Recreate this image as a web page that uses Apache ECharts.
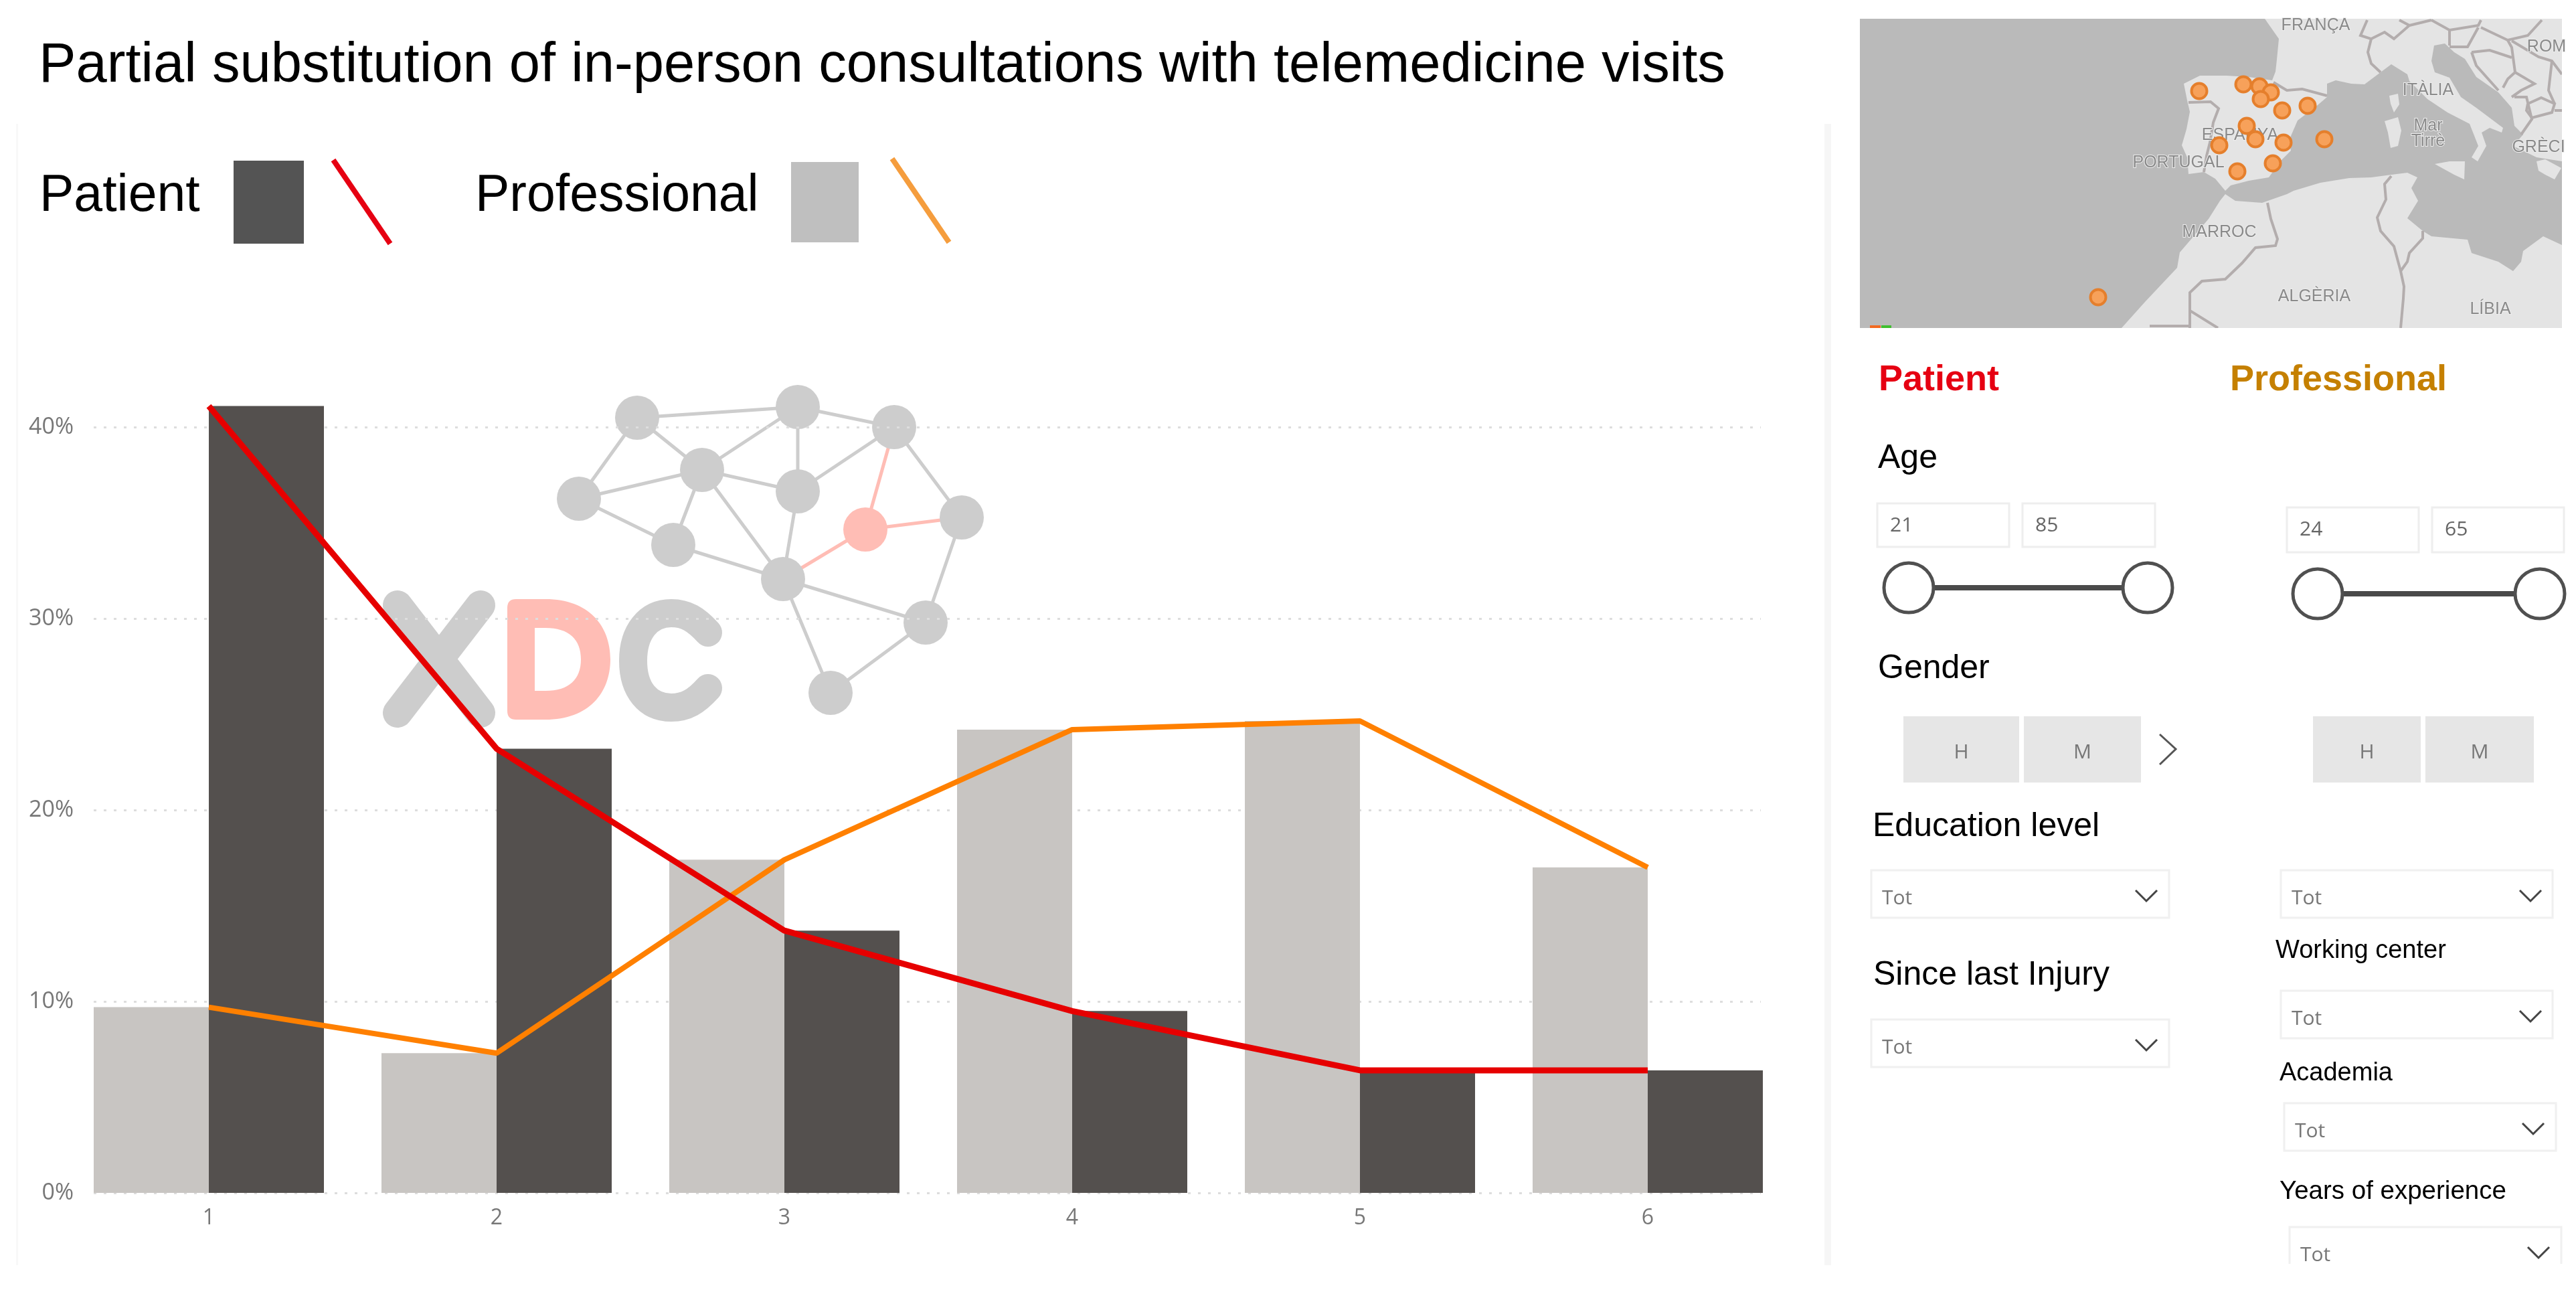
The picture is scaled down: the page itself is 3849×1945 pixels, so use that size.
<!DOCTYPE html>
<html><head><meta charset="utf-8">
<style>html,body{margin:0;padding:0;background:#fff}#c{width:3849px;height:1945px}</style>
<script src="https://cdn.jsdelivr.net/npm/echarts@6/dist/echarts.min.js"></script>
</head><body><div id="c"></div>
<script>
const categories = ['1','2','3','4','5','6'];
const patientValues = [41.1,23.2,13.7,9.5,6.4,6.4];
const professionalValues = [9.7,7.3,17.4,24.2,24.65,17.0];
const mapPointX = [3286,3352,3376,3393,3378,3410,3448,3357,3370,3412,3473,3316,3396,3343,3135];
const mapPointY = [136,126,129,138,148,165,158,188,208,213,208,217,244,256,444];
const mapLand = [
 [[3384,28],[3405,58],[3402,89],[3400,107],[3395,120],[3360,115],[3327,113],[3287,113],[3263,125],[3268,150],[3272,167],[3267,193],[3260,217],[3268,235],[3270,260],[3293,257],[3310,267],[3325,285],[3333,277],[3360,270],[3390,265],[3408,240],[3423,225],[3420,210],[3433,180],[3463,157],[3477,145],[3477,125],[3490,120],[3513,125],[3533,126],[3557,108],[3573,96],[3597,111],[3600,121],[3627,148],[3657,168],[3690,185],[3703,218],[3693,235],[3702,241],[3715,218],[3708,198],[3720,191],[3738,198],[3740,191],[3700,161],[3677,145],[3660,116],[3638,108],[3633,91],[3637,68],[3653,65],[3667,78],[3683,88],[3700,115],[3733,138],[3753,161],[3757,188],[3770,201],[3755,218],[3790,235],[3828,241],[3828,28]],
 [[3790,241],[3803,238],[3827,251],[3817,268],[3803,261],[3793,255]],
 [[3570,143],[3583,140],[3585,156],[3577,168],[3572,155]],
 [[3563,181],[3583,175],[3588,195],[3583,218],[3572,221],[3568,198]],
 [[3638,245],[3660,241],[3683,241],[3682,268],[3667,261]],
 [[3325,290],[3317,300],[3300,327],[3257,377],[3253,400],[3205,451],[3170,490],[3828,490],[3828,366],[3800,353],[3770,375],[3767,391],[3755,405],[3733,391],[3693,378],[3687,358],[3633,353],[3620,345],[3597,326],[3613,300],[3603,281],[3612,265],[3597,258],[3573,261],[3543,265],[3510,266],[3467,273],[3427,285],[3417,290],[3380,303],[3340,300]]
];
const mapBorders = [
 [[3397,123],[3417,135],[3440,133],[3477,143]],
 [[3270,153],[3303,152],[3315,162],[3307,183],[3302,213],[3297,233],[3293,257]],
 [[3388,303],[3393,327],[3403,357],[3400,367],[3370,370],[3350,393],[3325,417],[3290,420],[3272,437],[3272,464],[3314,490]],
 [[3272,464],[3272,490]],[[3212,487],[3272,487]],
 [[3573,263],[3563,275],[3565,298],[3552,325],[3557,345],[3577,368],[3587,405],[3592,428],[3591,446],[3587,490]],
 [[3620,345],[3620,356],[3600,378],[3597,391],[3587,405]],
 [[3557,108],[3543,95],[3538,78],[3543,58],[3527,53],[3537,30]],
 [[3543,58],[3563,48],[3577,58],[3600,38],[3585,30]],
 [[3600,38],[3633,30]],[[3633,30],[3660,45],[3703,38],[3707,30]],
 [[3660,45],[3660,68]],[[3660,70],[3687,70],[3703,41]],
 [[3707,41],[3747,60],[3777,53],[3798,30]],
 [[3747,60],[3753,71],[3758,108],[3747,118],[3740,131]],
 [[3693,78],[3720,75],[3753,86]],[[3693,78],[3700,98],[3733,135]],
 [[3758,108],[3787,125],[3767,135],[3753,145]],
 [[3777,155],[3797,146],[3817,155],[3813,168],[3783,176],[3775,165],[3777,155]],
 [[3757,145],[3775,145],[3783,178],[3767,201]],
 [[3753,61],[3793,85],[3813,91],[3828,111]],
 [[3813,91],[3808,135],[3817,155]],[[3817,165],[3828,165]]
];
const mapLabels = [
 ['FRANÇA',3460,38],['ITÀLIA',3628,135],['Mar',3628,188],['Tirrè',3628,211],['ROM',3805,70],['GRÈCI',3793,220],
 ['ESPANYA',3347,202],['PORTUGAL',3255,243],['MARROC',3316,347],['ALGÈRIA',3458,443],['LÍBIA',3721,462]
];
const logoNodes = [[952,624],[1192,608],[1336,638],[1049,702],[1192,734],[865,745],[1293,791],[1437,773],[1006,814],[1170,865],[1383,930],[1241,1035]];
const logoEdges = [[0,1],[1,2],[0,3],[0,5],[1,3],[1,4],[2,4],[2,7],[3,4],[3,5],[3,8],[3,9],[4,9],[5,8],[8,9],[9,10],[9,11],[10,7],[10,11]];
const logoPinkEdges = [[2,6],[6,7],[9,6]];

const SANS = '"Liberation Sans",Arial,sans-serif', UI = '"Open Sans",sans-serif';
const LOGO_GREY = '#cdcdcd', LOGO_PINK = '#ffbdb5';
const g = [];
function text(x, base, s, fs, color, weight, align, font, z){
  g.push({type:'text', x, y:base-0.35*fs, z:z==null?5:z, silent:true,
    style:{text:s, fill:color||'#000', fontSize:fs, fontWeight:weight||'normal', fontFamily:font||SANS, align:align||'left', verticalAlign:'middle'}});
}
function rect(x,y,w,h,fill,stroke,lw,z){
  g.push({type:'rect', z:z==null?1:z, silent:true, shape:{x,y,width:w,height:h}, style:{fill:fill||'none', stroke:stroke||null, lineWidth:lw||0}});
}
function poly(points,stroke,lw,z,cap){
  g.push({type:'polyline', z:z==null?5:z, silent:true, shape:{points}, style:{stroke, lineWidth:lw, fill:'none', lineCap:cap||'round'}});
}
// Title and hand-made legend
text(58,128,'Partial substitution of in-person consultations with telemedicine visits',83.2,'#000');
text(59,321,'Patient',77,'#000');
rect(349,240,105,124,'#545454');
poly([[498,239],[583,364]],'#e60012',8,5,'butt');
text(710,321,'Professional',77,'#000');
rect(1182,242,101,120,'#bfbfbf');
poly([[1333,237],[1418,362]],'#f59d3d',8,5,'butt');
// faint panel frames
rect(24,185,3,1705,'#f8f8f8');
rect(2726,185,10,1705,'#f6f6f6');
// XDC logo: network and the X
[[logoEdges,LOGO_GREY],[logoPinkEdges,LOGO_PINK]].forEach(([edges,col])=>edges.forEach(([a,b])=>poly([logoNodes[a],logoNodes[b]],col,5,-3)));
logoNodes.forEach((n,i)=>g.push({type:'circle',z:-2,silent:true,shape:{cx:n[0],cy:n[1],r:33},style:{fill:i===6?LOGO_PINK:LOGO_GREY}}));
poly([[594,904],[718,1065]],LOGO_GREY,44,-2);
poly([[718,904],[594,1065]],LOGO_GREY,44,-2);
// Map labels
mapLabels.forEach(([s,x,y])=>g.push({type:'text',x,y,z:1.5,silent:true,style:{text:s,fill:'#8a8a8a',fontSize:25,fontFamily:SANS,align:'center',verticalAlign:'middle',stroke:'#eeeeee',lineWidth:2}}));
rect(2794,486,16,4,'#f26a21',null,0,1.5);
rect(2811,486,15,4,'#3fbf2f',null,0,1.5);
// Right panel
text(2807,587,'Patient',54,'#e60012','bold');
text(3332,587,'Professional',54,'#c58000','bold');
text(2806,703,'Age',50);
function input(x,y,w,h,s){ rect(x,y,w,h,'#fff','#eeeeee',3); text(x+19,y+44,s,30,'#666','normal','left',UI); }
function slider(x1,x2,y){
  poly([[x1,y],[x2,y]],'#4a4a4a',8,4,'butt');
  [x1,x2].forEach(cx=>g.push({type:'circle',z:5,silent:true,shape:{cx,cy:y,r:37},style:{fill:'#fff',stroke:'#505050',lineWidth:5}}));
}
input(2805,752,197,65,'21'); input(3022,752,198,65,'85'); slider(2852,3209,878);
input(3417,758,197,67,'24'); input(3634,758,197,67,'65'); slider(3463,3795,887);
text(2806,1017,'Gender',50);
function chip(x,w,s){ rect(x,1070,w,99,'#e6e6e6'); text(x+w/2,1135,s,30,'#777','normal','center',UI); }
chip(2844,173,'H'); chip(3024,175,'M'); chip(3456,161,'H'); chip(3624,162,'M');
poly([[3227,1097],[3251,1119],[3227,1142]],'#555',3,5,'butt');
text(2798,1253,'Education level',50);
text(2799,1475,'Since last Injury',50);
function drop(x,y,w,h,chevX,s){
  rect(x,y,w,h,'#fff','#f0f0f0',3);
  text(x+16,y+53,s||'Tot',30,'#777','normal','left',UI);
  poly([[chevX-16,y+30],[chevX,y+46],[chevX+16,y+30]],'#444',3,5,'butt');
}
drop(2796,1300,445,71,3207); drop(2796,1523,445,71,3207);
drop(3408,1300,406,71,3781);
text(3400,1434,'Working center',38);
drop(3408,1480,406,71,3781);
text(3406,1617,'Academia',38);
drop(3413,1648,406,71,3785);
text(3406,1794,'Years of experience',38.5);
drop(3421,1833,406,71,3793);
// cover that clips the panel bottom
rect(3380,1888,469,57,'#fff',null,0,6);

const option = {
  backgroundColor:'#fff', animation:false,
  grid:[
    {left:97,width:2580,top:352,height:1430},      // bars and lines
    {left:140,width:2491,top:638,height:1144},     // dotted gridlines and percent labels
    {left:2779,width:1049,top:28,height:462}       // locator map
  ],
  xAxis:[
    {type:'category',gridIndex:0,data:categories,axisLine:{show:false},axisTick:{show:false},splitLine:{show:false},
     axisLabel:{fontSize:32,color:'#777',fontFamily:UI,margin:22}},
    {type:'value',gridIndex:1,min:0,max:1,show:false},
    {type:'value',gridIndex:2,min:2779,max:3828,show:false}
  ],
  yAxis:[
    {type:'value',gridIndex:0,min:0,max:50,show:false,splitLine:{show:false}},
    {type:'value',gridIndex:1,min:0,max:40,interval:10,axisLine:{show:false},axisTick:{show:false},
     axisLabel:{formatter:'{value}%',fontSize:34,color:'#777',fontFamily:UI,margin:30},
     splitLine:{show:true,lineStyle:{color:'#dddddd',width:3,type:[4,11]}}},
    {type:'value',gridIndex:2,min:28,max:490,inverse:true,show:false}
  ],
  series:[
    {name:'Logo letters',type:'custom',coordinateSystem:'none',z:-2,silent:true,clip:false,data:[[0]],
     renderItem:()=>({type:'group',children:[
       {type:'path',shape:{pathData:'M758 908 Q758 895 771 895 L815 895 C880 895 912 935 912 985 C912 1035 880 1075 815 1075 L771 1075 Q758 1075 758 1062 Z M799 938 L799 1032 L815 1032 C850 1032 868 1015 868 985 C868 955 850 938 815 938 Z'},style:{fill:LOGO_PINK}},
       {type:'path',shape:{pathData:'M1058 945 C1040 925 1025 916 1003 916 C968 916 946 945 946 987 C946 1030 968 1057 1003 1057 C1025 1057 1040 1048 1058 1028'},style:{fill:'none',stroke:LOGO_GREY,lineWidth:42,lineCap:'round'}}
     ]})},
    {name:'Professional',type:'bar',xAxisIndex:0,yAxisIndex:0,data:professionalValues,barGap:0,barCategoryGap:'20%',itemStyle:{color:'#c8c5c2'},z:2},
    {name:'Patient',type:'bar',xAxisIndex:0,yAxisIndex:0,data:patientValues,barGap:0,barCategoryGap:'20%',itemStyle:{color:'#54504e'},z:2},
    {name:'Professional line',type:'line',xAxisIndex:0,yAxisIndex:0,data:professionalValues,symbol:'none',lineStyle:{color:'#ff8000',width:8},z:4},
    {name:'Patient line',type:'line',xAxisIndex:0,yAxisIndex:0,data:patientValues,symbol:'none',lineStyle:{color:'#e60000',width:9},z:5},
    {name:'Sea',type:'custom',xAxisIndex:2,yAxisIndex:2,z:1,silent:true,clip:true,data:[[0]],
     renderItem:(p,api)=>({type:'polygon',shape:{points:[[2779,28],[3828,28],[3828,490],[2779,490]].map(c=>api.coord(c))},style:{fill:'#bababa'}})},
    {name:'Land',type:'custom',xAxisIndex:2,yAxisIndex:2,z:1.1,silent:true,clip:true,data:mapLand.map((r,i)=>[i]),
     renderItem:(p,api)=>({type:'polygon',shape:{points:mapLand[p.dataIndex].map(c=>api.coord(c))},style:{fill:'#e4e4e4'}})},
    {name:'Borders',type:'custom',xAxisIndex:2,yAxisIndex:2,z:1.2,silent:true,clip:true,data:mapBorders.map((r,i)=>[i]),
     renderItem:(p,api)=>({type:'polyline',shape:{points:mapBorders[p.dataIndex].map(c=>api.coord(c))},style:{stroke:'#b3adad',lineWidth:4,fill:'none'}})},
    {name:'Sites',type:'scatter',xAxisIndex:2,yAxisIndex:2,z:3,data:mapPointX.map((x,i)=>[x,mapPointY[i]]),symbolSize:23,
     itemStyle:{color:'#f7a15a',borderColor:'#e57f2c',borderWidth:4,opacity:1}}
  ],
  graphic:{elements:g}
};
echarts.init(document.getElementById('c'),null,{renderer:'canvas',width:3849,height:1945}).setOption(option);
</script></body></html>
